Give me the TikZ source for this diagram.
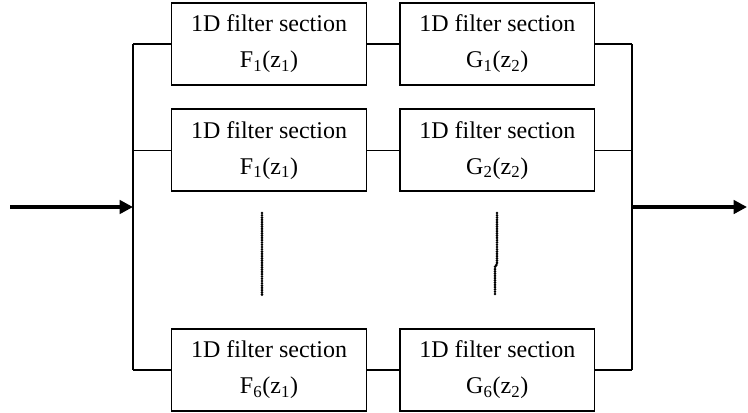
\documentclass[tikz,border=0pt]{standalone}
\usepackage{fontspec}
\setmainfont{Liberation Serif}
\usepackage{tikz}
\usetikzlibrary{arrows.meta, positioning}

\begin{document}
\begin{tikzpicture}[
  x=0.75pt, y=-0.75pt,
  filterBox/.style={rectangle, draw, line width=1.2pt, minimum width=146pt, minimum height=61.5pt, inner sep=0pt, align=center, font=\fontsize{18}{27}\selectfont},
  wire/.style={line width=1.1pt},
  bigArrow/.style={line width=2.6pt, -{Triangle[length=10pt, width=10pt]}},
  dotLine/.style={line width=2.2pt, line cap=round, dash pattern=on 0pt off 1.7pt},
  node distance=24pt
]
\useasboundingbox (0,0) rectangle (748,412);
% filter sections
\node[filterBox] (f1) at (269,44) {1D filter section\\F\textsubscript{1}(z\textsubscript{1})};
\node[filterBox, right=of f1] (g1) {1D filter section\\G\textsubscript{1}(z\textsubscript{2})};
\node[filterBox, below=17pt of f1] (f2) {1D filter section\\F\textsubscript{1}(z\textsubscript{1})};
\node[filterBox, right=of f2] (g2) {1D filter section\\G\textsubscript{2}(z\textsubscript{2})};
\node[filterBox, below=102pt of f2] (f6) {1D filter section\\F\textsubscript{6}(z\textsubscript{1})};
\node[filterBox, right=of f6] (g6) {1D filter section\\G\textsubscript{6}(z\textsubscript{2})};
% buses
\coordinate (inl) at (133,207);
\coordinate (outr) at (632,207);
\coordinate (src) at (10,207);
\coordinate (dst) at (747,207);
\draw[wire] (f1.west -| inl) -- (f6.west -| inl);
\draw[wire] (g1.east -| outr) -- (g6.east -| outr);
\foreach \f/\g in {f1/g1, f2/g2, f6/g6} {
  \draw[wire] (\f.west -| inl) -- (\f.west);
  \draw[wire] (\f.east) -- (\g.west);
  \draw[wire] (\g.east) -- (\g.east -| outr);
}
\draw[bigArrow] (src) -- (inl);
\draw[bigArrow] (outr) -- (dst);
% dotted continuation
\draw[dotLine] (262,213) -- (262,295);
\draw[dotLine] (497,213) -- (497,264) -- (495,267) -- (495,295);
\end{tikzpicture}
\end{document}
